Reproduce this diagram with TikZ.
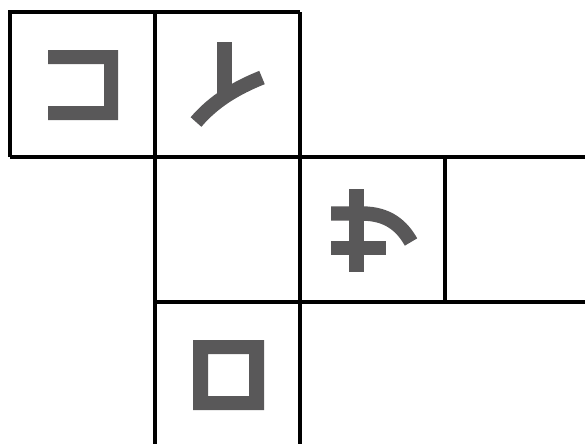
\documentclass[tikz,border=0pt]{standalone}
\usepackage{xcolor}
\usepackage{tikz}
\usetikzlibrary{calc}
\definecolor{GlyphGray}{RGB}{89,88,89}

\begin{document}
\begin{tikzpicture}[x=0.75pt, y=-0.75pt,
		grid line/.style={line width=2.3pt, black},
		stroke/.style={line width=10.8pt, GlyphGray, line cap=butt}]
		\useasboundingbox (0,0) rectangle (585,444);
		
		% grid corners
		\coordinate (A) at (10,12);
		\coordinate (B) at (300,12);
		\coordinate (C) at (10,157);
		\coordinate (D) at (585,157);
		\coordinate (E) at (155,302);
		\coordinate (F) at (585,302);
		
		\draw[grid line] (C) -- (A) -- (B);
		\draw[grid line] (C) -- (D);
		\draw[grid line] (E) -- (F);
		\draw[grid line] (155,12) -- (155,444);
		\draw[grid line] (300,12) -- (300,444);
		\draw[grid line] (445,157) -- (445,302);
		
		% cell top left
		\fill[GlyphGray] (48,50) -- (118,50) -- (118,120) -- (48,120) -- (48,106)
			-- (104,106) -- (104,64) -- (48,64) -- cycle;
		
		% cell top middle
		\draw[stroke] (224.5,42) -- (224.5,98);
		\draw[stroke] (196,122) .. controls (214,101) and (236,88) .. (262,77.5);
		
		% cell middle right
		\draw[stroke] (356.5,189) -- (356.5,272);
		\draw[stroke] (331,248) -- (386,248);
		\draw[stroke] (331,213.5) -- (362,213.5) .. controls (388,213.5) and (402,226) .. (411,242);
		
		% cell bottom
		\fill[GlyphGray, even odd rule] (193,340) rectangle (264,410)
			(208,354) rectangle (249,396);
	\end{tikzpicture}
\end{document}
